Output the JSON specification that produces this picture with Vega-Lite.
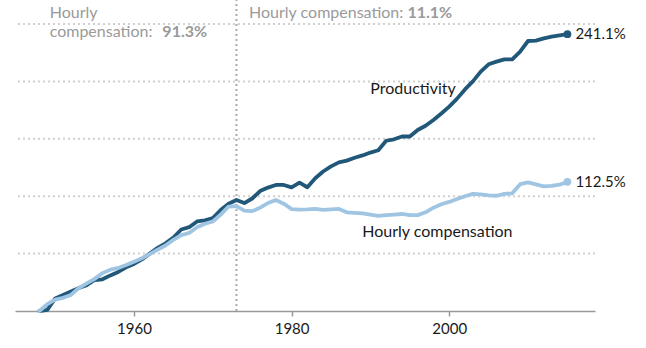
{
  "$schema": "https://vega.github.io/schema/vega-lite/v6.json",
  "width": 580,
  "height": 287,
  "autosize": {"type": "none"},
  "padding": {"left": 15, "top": 24, "right": 51, "bottom": 37},
  "background": "white",
  "config": {
    "view": {"stroke": null},
    "font": "Lato"
  },
  "datasets": {
    "series": [
      {"year": 1948, "p": 0, "c": 0},
      {"year": 1949, "p": 1, "c": 6},
      {"year": 1950, "p": 11, "c": 10},
      {"year": 1951, "p": 14, "c": 11.5},
      {"year": 1952, "p": 17, "c": 14},
      {"year": 1953, "p": 20, "c": 20},
      {"year": 1954, "p": 22.5, "c": 24},
      {"year": 1955, "p": 27, "c": 28},
      {"year": 1956, "p": 27.6, "c": 33},
      {"year": 1957, "p": 31, "c": 36},
      {"year": 1958, "p": 34, "c": 37.5},
      {"year": 1959, "p": 38, "c": 40},
      {"year": 1960, "p": 41, "c": 43},
      {"year": 1961, "p": 45, "c": 46},
      {"year": 1962, "p": 50, "c": 49.5},
      {"year": 1963, "p": 55, "c": 53.5},
      {"year": 1964, "p": 59, "c": 57},
      {"year": 1965, "p": 64, "c": 62},
      {"year": 1966, "p": 71, "c": 66},
      {"year": 1967, "p": 73, "c": 68},
      {"year": 1968, "p": 78, "c": 73},
      {"year": 1969, "p": 79, "c": 76},
      {"year": 1970, "p": 81, "c": 78},
      {"year": 1971, "p": 88, "c": 84},
      {"year": 1972, "p": 93.5, "c": 91},
      {"year": 1973, "p": 96.7, "c": 91.3},
      {"year": 1974, "p": 94, "c": 87.4},
      {"year": 1975, "p": 98, "c": 87},
      {"year": 1976, "p": 104.5, "c": 90},
      {"year": 1977, "p": 107.5, "c": 94},
      {"year": 1978, "p": 109.8, "c": 96.7},
      {"year": 1979, "p": 109.8, "c": 93.5},
      {"year": 1980, "p": 107.7, "c": 88.8},
      {"year": 1981, "p": 111.8, "c": 88.3},
      {"year": 1982, "p": 107.8, "c": 88.5},
      {"year": 1983, "p": 115.6, "c": 89},
      {"year": 1984, "p": 121.5, "c": 88},
      {"year": 1985, "p": 126, "c": 88.5},
      {"year": 1986, "p": 129.5, "c": 88.9},
      {"year": 1987, "p": 131, "c": 86},
      {"year": 1988, "p": 133.5, "c": 85.5},
      {"year": 1989, "p": 135.5, "c": 85},
      {"year": 1990, "p": 138, "c": 84},
      {"year": 1991, "p": 140, "c": 82.8},
      {"year": 1992, "p": 148.3, "c": 83.5},
      {"year": 1993, "p": 149.6, "c": 84},
      {"year": 1994, "p": 152, "c": 84.5},
      {"year": 1995, "p": 152, "c": 83.5},
      {"year": 1996, "p": 157.7, "c": 83.5},
      {"year": 1997, "p": 161.4, "c": 86},
      {"year": 1998, "p": 166.4, "c": 90},
      {"year": 1999, "p": 172, "c": 93},
      {"year": 2000, "p": 178, "c": 95},
      {"year": 2001, "p": 185, "c": 97.5},
      {"year": 2002, "p": 193, "c": 100},
      {"year": 2003, "p": 200, "c": 102},
      {"year": 2004, "p": 208.5, "c": 101.6},
      {"year": 2005, "p": 214.9, "c": 100.8},
      {"year": 2006, "p": 217.2, "c": 100.4},
      {"year": 2007, "p": 219.2, "c": 102},
      {"year": 2008, "p": 219.2, "c": 102.5},
      {"year": 2009, "p": 226, "c": 110.5},
      {"year": 2010, "p": 235.2, "c": 112},
      {"year": 2011, "p": 235.5, "c": 110.3},
      {"year": 2012, "p": 237.5, "c": 108.5},
      {"year": 2013, "p": 239, "c": 109},
      {"year": 2014, "p": 240, "c": 110},
      {"year": 2015, "p": 241.1, "c": 112.5}
    ],
    "ends": [
      {"year": 2015, "series": "Productivity", "value": 241.1, "label": "241.1%"},
      {"year": 2015, "series": "Hourly compensation", "value": 112.5, "label": "112.5%"}
    ],
    "lineLabels": [
      {"year": 1995.4, "value": 193.4, "text": "Productivity"},
      {"year": 1998.5, "value": 68.8, "text": "Hourly compensation"}
    ],
    "notes": [
      {"year": 1949.3, "value": 259.6, "text": "Hourly"},
      {"year": 1949.3, "value": 243, "text": "compensation:"},
      {"year": 1974.6, "value": 259.6, "text": "Hourly compensation:"}
    ],
    "boldNotes": [
      {"year": 1963.6, "value": 243, "text": "91.3%"},
      {"year": 1994.7, "value": 259.6, "text": "11.1%"}
    ]
  },
  "layer": [
    {
      "data": {"values": [{"g": 50}, {"g": 100}, {"g": 150}, {"g": 200}, {"g": 250}]},
      "mark": {"type": "rule", "color": "#d0d0d0", "strokeWidth": 2, "strokeDash": [2, 3]},
      "encoding": {
        "y": {"field": "g", "type": "quantitative", "scale": {"domain": [0, 250], "nice": false}, "axis": null}
      }
    },
    {
      "data": {"values": [{"year": 1973, "y1": 0, "y2": 280}]},
      "mark": {"type": "rule", "color": "#aaaaaa", "strokeWidth": 2, "strokeDash": [2, 3]},
      "encoding": {
        "x": {"field": "year", "type": "quantitative"},
        "y": {"field": "y1", "type": "quantitative"},
        "y2": {"field": "y2"}
      }
    },
    {
      "data": {"name": "series"},
      "mark": {"type": "line", "strokeWidth": 3.8, "strokeCap": "round", "strokeJoin": "round", "color": "#21587a"},
      "encoding": {
        "x": {
          "field": "year", "type": "quantitative",
          "scale": {"domain": [1944.9, 2018.5], "nice": false, "zero": false},
          "axis": {
            "values": [1960, 1980, 2000], "format": "d", "title": null, "grid": false,
            "labelFontSize": 15, "labelColor": "#1a1a1a", "labelFont": "Lato",
            "tickColor": "#999", "tickSize": 5, "tickWidth": 1.5,
            "domainColor": "#999", "domainWidth": 1.5, "labelPadding": 5
          }
        },
        "y": {"field": "p", "type": "quantitative"}
      }
    },
    {
      "data": {"name": "series"},
      "mark": {"type": "line", "strokeWidth": 3.8, "strokeCap": "round", "strokeJoin": "round", "color": "#9fc5e3"},
      "encoding": {
        "x": {"field": "year", "type": "quantitative"},
        "y": {"field": "c", "type": "quantitative"}
      }
    },
    {
      "data": {"name": "ends"},
      "mark": {"type": "point", "filled": true, "opacity": 1, "size": 60},
      "encoding": {
        "x": {"field": "year", "type": "quantitative"},
        "y": {"field": "value", "type": "quantitative"},
        "color": {
          "field": "series", "type": "nominal",
          "scale": {"domain": ["Productivity", "Hourly compensation"], "range": ["#21587a", "#9fc5e3"]},
          "legend": null
        }
      }
    },
    {
      "data": {"name": "ends"},
      "mark": {"type": "text", "align": "left", "baseline": "middle", "dx": 8, "fontSize": 15, "color": "#1a1a1a"},
      "encoding": {
        "x": {"field": "year", "type": "quantitative"},
        "y": {"field": "value", "type": "quantitative"},
        "text": {"field": "label"}
      }
    },
    {
      "data": {"name": "lineLabels"},
      "mark": {"type": "text", "align": "center", "baseline": "middle", "fontSize": 16, "color": "#1a1a1a"},
      "encoding": {
        "x": {"field": "year", "type": "quantitative"},
        "y": {"field": "value", "type": "quantitative"},
        "text": {"field": "text"}
      }
    },
    {
      "data": {"name": "notes"},
      "mark": {"type": "text", "align": "left", "baseline": "middle", "fontSize": 16, "color": "#9a9a9a"},
      "encoding": {
        "x": {"field": "year", "type": "quantitative"},
        "y": {"field": "value", "type": "quantitative"},
        "text": {"field": "text"}
      }
    },
    {
      "data": {"name": "boldNotes"},
      "mark": {"type": "text", "align": "left", "baseline": "middle", "fontSize": 16, "fontWeight": "bold", "color": "#9a9a9a"},
      "encoding": {
        "x": {"field": "year", "type": "quantitative"},
        "y": {"field": "value", "type": "quantitative"},
        "text": {"field": "text"}
      }
    }
  ]
}
